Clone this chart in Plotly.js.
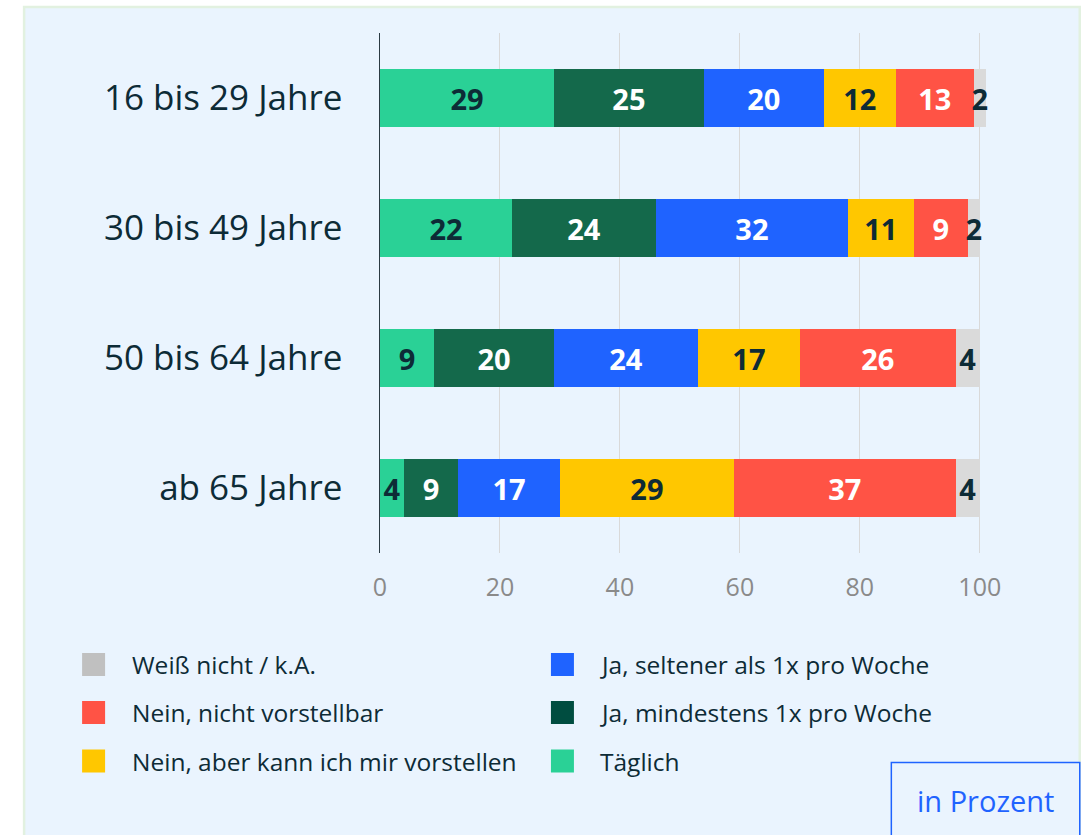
<!DOCTYPE html>
<html>
<head>
<meta charset="utf-8">
<script src="https://cdn.plot.ly/plotly-3.0.1.min.js"></script>
<style>
html,body{margin:0;padding:0;background:#ffffff;}
#chart{width:1089px;height:835px;}
</style>
</head>
<body>
<div id="chart"></div>
<script>
// ---- data ----
const categories = ["16 bis 29 Jahre", "30 bis 49 Jahre", "50 bis 64 Jahre", "ab 65 Jahre"];
const seriesNames = ["Täglich", "Ja, mindestens 1x pro Woche", "Ja, seltener als 1x pro Woche",
                     "Nein, aber kann ich mir vorstellen", "Nein, nicht vorstellbar", "Weiß nicht / k.A."];
const taeglich      = [29, 22, 9, 4];
const jaMindestens  = [25, 24, 20, 9];
const jaSeltener    = [20, 32, 24, 17];
const neinAber      = [12, 11, 17, 29];
const neinNicht     = [13, 9, 26, 37];
const weissNicht    = [2, 2, 4, 4];
const xTicks = [0, 20, 40, 60, 80, 100];

// ---- styles ----
const barColors    = ["#2ad196", "#14694b", "#1f63ff", "#ffc700", "#ff5345", "#dadada"];
const legendColors = ["#2ad196", "#004d40", "#1f63ff", "#ffc700", "#ff5345", "#c0c0c0"];
const labelColors  = ["#0d2b36", "#ffffff", "#ffffff", "#0d2b36", "#ffffff", "#0d2b36"];
const dark = "#0d2b36";
const FONT = "Open Sans, sans-serif";

const values = [taeglich, jaMindestens, jaSeltener, neinAber, neinNicht, weissNicht];

const traces = values.map((vals, i) => ({
  type: "bar",
  orientation: "h",
  name: seriesNames[i],
  y: categories,
  x: vals,
  text: vals.map(String),
  textposition: "inside",
  insidetextanchor: "middle",
  constraintext: "none",
  cliponaxis: false,
  textfont: {family: FONT, size: 29, color: labelColors[i], weight: 700},
  marker: {color: barColors[i], line: {width: 0}},
  width: 0.446,
  hoverinfo: "skip",
  showlegend: false
}));

// plot area geometry (pixels) for converting positions into paper coords
const XMAX = 101.2;
const L = 380, T = 33, B = 282, W = 1089, H = 835;
const R = W - L - 6 * XMAX;
const pw = W - L - R, ph = H - T - B;
const px = v => (v - L) / pw;
const py = v => (H - B - v) / ph;

const shapes = [
  // panel
  {type: "rect", xref: "paper", yref: "paper", layer: "below",
   x0: px(24), x1: px(1080), y0: py(845), y1: py(7),
   fillcolor: "#eaf4fe", line: {color: "#e2f1e0", width: 2.5}},
  // "in Prozent" box
  {type: "rect", xref: "paper", yref: "paper", layer: "above",
   x0: px(891.5), x1: px(1080), y0: py(845), y1: py(762.5),
   fillcolor: "#eaf4fe", line: {color: "#1f63ff", width: 1.5}}
];

const annotations = [
  {xref: "paper", yref: "paper", x: px(986), y: py(800), text: "in Prozent",
   showarrow: false, xanchor: "center", yanchor: "middle",
   font: {family: FONT, size: 29, color: "#1f63ff"}}
];

// manual legend (two columns, three rows)
const legendOrder = [5, 2, 4, 1, 3, 0];
const rowY = [664.5, 712.5, 761];
const colSwatchX = [82, 551];
const colTextX = [130, 598];
legendOrder.forEach((s, k) => {
  const col = k % 2, row = Math.floor(k / 2);
  shapes.push({type: "rect", xref: "paper", yref: "paper", layer: "above",
    x0: px(colSwatchX[col]), x1: px(colSwatchX[col] + 23),
    y0: py(rowY[row] + 11.5), y1: py(rowY[row] - 11.5),
    fillcolor: legendColors[s], line: {width: 0}});
  annotations.push({xref: "paper", yref: "paper", x: px(colTextX[col]), y: py(rowY[row]),
    text: seriesNames[s], showarrow: false, xanchor: "left", yanchor: "middle",
    font: {family: FONT, size: 24.5, color: dark}});
});

const layout = {
  width: W, height: H,
  margin: {l: L, r: R, t: T, b: B, pad: 0},
  paper_bgcolor: "#ffffff",
  plot_bgcolor: "rgba(0,0,0,0)",
  barmode: "stack",
  showlegend: false,
  font: {family: FONT, color: dark},
  xaxis: {
    range: [0, XMAX],
    tickvals: xTicks,
    ticktext: xTicks.map(String),
    showgrid: true, gridcolor: "#d9d9d9", gridwidth: 1,
    zeroline: false, showline: false, ticks: "",
    ticklabelstandoff: 17,
    tickfont: {family: FONT, size: 25, color: "#8a8a8a"},
    fixedrange: true
  },
  yaxis: {
    type: "category",
    categoryorder: "array",
    categoryarray: categories,
    range: [3.5, -0.5],
    showgrid: false, zeroline: false,
    showline: true, linecolor: "#2b3a42", linewidth: 1.5,
    ticks: "", ticklabelstandoff: 29,
    tickfont: {family: FONT, size: 35, color: dark},
    fixedrange: true
  },
  shapes: shapes,
  annotations: annotations
};

Plotly.newPlot("chart", traces, layout, {displayModeBar: false, staticPlot: true});
</script>
</body>
</html>
